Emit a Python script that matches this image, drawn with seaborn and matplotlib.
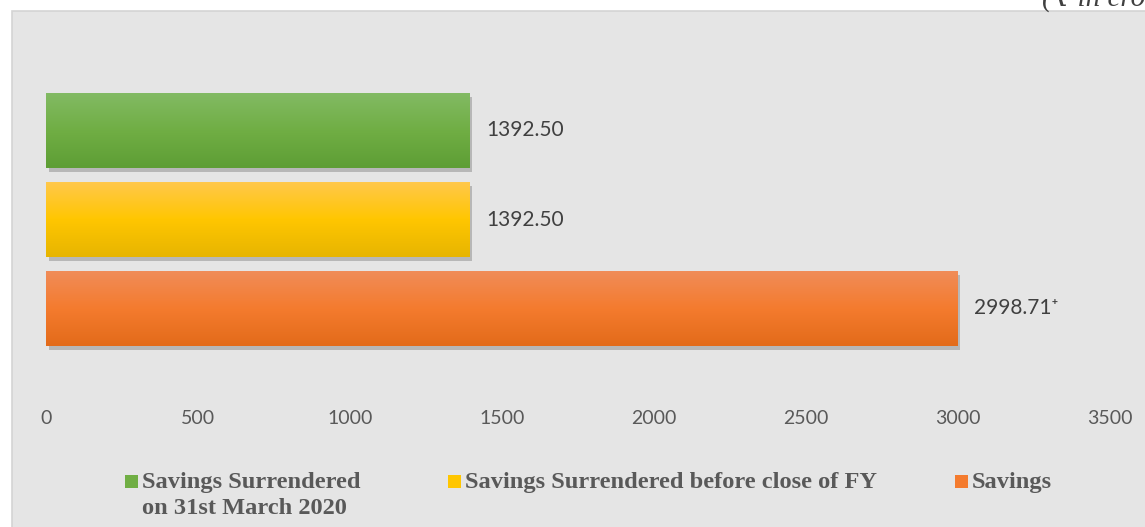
#!/usr/bin/env python3

import numpy as np
import seaborn as sns
from matplotlib import pyplot as plt
from matplotlib import patches as mpatches
from matplotlib import patheffects as pe
from matplotlib.colors import to_rgb

# chart values
categories = [
    'Savings Surrendered\non 31st March 2020',
    'Savings Surrendered before close of FY',
    'Savings',
]
values = [1392.50, 1392.50, 2998.71]
value_labels = ['1392.50', '1392.50', '2998.71\u207a']
x_ticks = [0, 500, 1000, 1500, 2000, 2500, 3000, 3500]
unit_note = '(\u20b9 in crore)'

# top / middle / bottom shades of each bar's gradient
bar_colors = ['#70ad47', '#ffc000', '#f47b30']
gradients = [
    ['#82ba63', '#70ae44', '#5e9e35'],
    ['#ffc84a', '#ffc600', '#e7b500'],
    ['#f08c58', '#f47b2e', '#e36b1a'],
]

sns.set_theme(style='white')
plt.rcParams['font.family'] = ['Lato', 'DejaVu Sans']

W, H = 1145, 527
fig = plt.figure(figsize=(W / 100, H / 100), dpi=100, facecolor='white')

# grey chart panel (clipped by the right and bottom edges)
panel = mpatches.Rectangle(
    (12 / W, -0.05), 1.1, 1.05 - 11 / H,
    transform=fig.transFigure, facecolor='#e5e5e5',
    edgecolor='#d4d4d4', linewidth=1.2, zorder=-2,
)
fig.add_artist(panel)

ax = fig.add_axes([46 / W, 1 - 397.5 / H, (1110 - 46) / W, 356 / H])
ax.set_facecolor('none')

sns.barplot(
    x=values, y=categories, hue=categories, palette=bar_colors,
    width=0.84, legend=False, saturation=1, linewidth=0, ax=ax,
)

# vertical gradient + soft shadow on each bar
for patch, grad in zip(ax.patches, gradients):
    patch.set_linewidth(0)
    patch.set_path_effects([
        pe.SimplePatchShadow(offset=(2, -3), shadow_rgbFace='black',
                             alpha=0.2),
        pe.Normal(),
    ])
    x0, y0 = patch.get_x(), patch.get_y()
    w, h = patch.get_width(), patch.get_height()
    stops = np.array([to_rgb(c) for c in grad])
    t = np.linspace(0, 1, 64)
    col = np.stack([np.interp(t, [0, 0.5, 1], stops[:, k])
                    for k in range(3)], axis=-1)
    img = ax.imshow(col[:, None, :], extent=[x0, x0 + w, y0 + h, y0],
                    aspect='auto', zorder=patch.get_zorder() + 0.1,
                    interpolation='bilinear')
    img.set_clip_path(patch)

ax.set_xlim(0, 3500)
ax.set_ylim(3, -1)
ax.set_xticks(x_ticks)
ax.set_xticklabels([str(t) for t in x_ticks])
ax.set_yticks([])
ax.set_ylabel('')
ax.tick_params(axis='x', length=0, pad=9, labelsize=14,
               labelcolor='#595959')
for s in ax.spines.values():
    s.set_visible(False)

# value labels
for i, (v, lab) in enumerate(zip(values, value_labels)):
    ax.text(v + 55, i, lab, va='center', ha='left', fontsize=15,
            color='#404040', family=['Lato', 'DejaVu Sans'])

# unit note, cut by the top edge as in the source
fig.text(1042 / W, 1 - 6 / H, unit_note, ha='left', va='baseline',
         fontsize=21, style='italic', color='#404040',
         family=['Liberation Serif', 'DejaVu Serif', 'DejaVu Sans'])

# legend
leg_x = [125, 448, 955]
for x, grad, lab in zip(leg_x, gradients, categories):
    sq = mpatches.Rectangle((x / W, 1 - 488 / H), 13 / W, 13 / H,
                            transform=fig.transFigure,
                            facecolor=grad[1], edgecolor='none')
    fig.add_artist(sq)
    fig.text((x + 17) / W, 1 - 472 / H, lab, ha='left', va='top',
             fontsize=17.6, fontweight='bold', color='#595959',
             family=['Liberation Serif', 'DejaVu Serif'],
             linespacing=1.3)

fig.savefig('out.png', dpi=100, facecolor='white')
